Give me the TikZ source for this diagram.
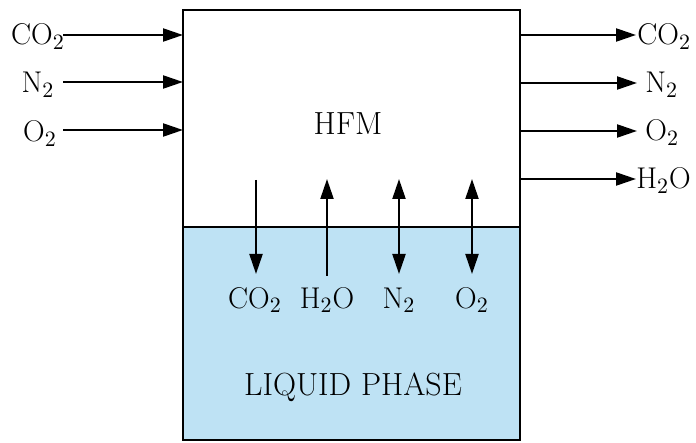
\documentclass[tikz,border=0pt]{standalone}
\usetikzlibrary{arrows.meta}
\definecolor{liquid}{RGB}{190,226,244}
\begin{document}
\begin{tikzpicture}[x=0.5pt,y=-0.5pt,
  tip/.tip={Triangle[length=10pt,width=6.5pt]},
  flow/.style={line width=1.1pt,-tip},
  biflow/.style={line width=1.1pt,tip-tip},
  lbl/.style={inner sep=0pt,anchor=base,font=\fontsize{15}{18}\selectfont},
  big/.style={inner sep=0pt,anchor=base,font=\fontsize{16}{19}\selectfont}]
\useasboundingbox (0,0) rectangle (696,443);
% box
\fill[liquid] (183,227) rectangle (520,440);
\draw[line width=1.1pt] (183,227) -- (520,227);
\draw[line width=1.3pt] (183,10) rectangle (520,440);
\node[big] (hfm) at (348,135) {HFM};
\node[big] (liq) at (353,395) {LIQUID PHASE};
% left inputs
\node[lbl] (lco2) at (38,45) {CO$_2$};
\node[lbl] (ln2) at (38,93) {N$_2$};
\node[lbl] (lo2) at (40,142) {O$_2$};
\coordinate (s1) at (63,35);
\coordinate (s2) at (63,82);
\coordinate (s3) at (63,130);
\coordinate (e1) at (183,35);
\coordinate (e2) at (183,82);
\coordinate (e3) at (183,130);
\draw[flow] (s1) -- (e1);
\draw[flow] (s2) -- (e2);
\draw[flow] (s3) -- (e3);
% right outputs
\coordinate (r1) at (520,35);
\coordinate (r2) at (520,83);
\coordinate (r3) at (520,131);
\coordinate (r4) at (520,179);
\node[lbl,anchor=base west] (rco2) at (637,45) {CO$_2$};
\node[lbl,anchor=base west] (rn2) at (645,93) {N$_2$};
\node[lbl,anchor=base west] (ro2) at (645,141) {O$_2$};
\node[lbl,anchor=base west] (rh2o) at (636,189) {H$_2$O};
\coordinate (t1) at (636,35);
\coordinate (t2) at (637,83);
\coordinate (t3) at (637,131);
\coordinate (t4) at (636,179);
\draw[flow] (r1) -- (t1);
\draw[flow] (r2) -- (t2);
\draw[flow] (r3) -- (t3);
\draw[flow] (r4) -- (t4);
% exchange arrows
\node[lbl] (ico2) at (255,308) {CO$_2$};
\node[lbl] (ih2o) at (327,308) {H$_2$O};
\node[lbl] (in2) at (399,308) {N$_2$};
\node[lbl] (io2) at (472,308) {O$_2$};
\coordinate (a1) at (256,180);
\coordinate (b1) at (256,274);
\coordinate (a2) at (327,179);
\coordinate (b2) at (327,276);
\coordinate (a3) at (399,179);
\coordinate (b3) at (399,274);
\coordinate (a4) at (472,179);
\coordinate (b4) at (472,274);
\draw[flow] (a1) -- (b1);
\draw[flow] (b2) -- (a2);
\draw[biflow] (a3) -- (b3);
\draw[biflow] (a4) -- (b4);
\end{tikzpicture}
\end{document}
